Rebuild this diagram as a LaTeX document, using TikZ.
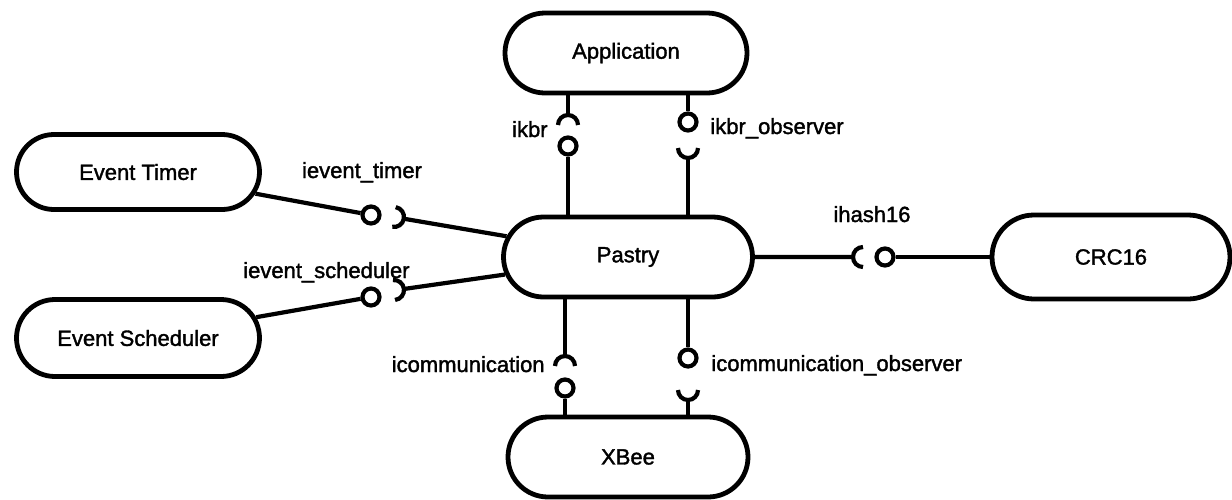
\documentclass[tikz,border=0pt]{standalone}
\usepackage{fontspec}
\setmainfont{Liberation Sans}
\newfontfamily\labelfont[FakeBold=1.6]{Liberation Sans}
\usetikzlibrary{shapes.misc,calc}

% socket (required interface): #1 centre, #2 direction it opens towards, #3 name of its back point
\newcommand\socketat[3]{%
  \coordinate (#3) at ($(#1)+(#2+180:10)$);
  \draw[conn] ($(#1)+(#2+90:10)$) arc[start angle=#2+90, end angle=#2+270, radius=10];
}

\begin{document}
\begin{tikzpicture}[x=0.5pt,y=-0.5pt,
  comp/.style={rounded rectangle, draw, line width=2.4pt, inner sep=0pt,
               font=\labelfont\fontsize{11}{13}\selectfont},
  ball/.style={circle, draw, line width=2.1pt, minimum size=8.5pt, inner sep=0pt, fill=white},
  conn/.style={line width=2.1pt},
  lbl/.style={inner sep=0pt, font=\labelfont\fontsize{11}{13}\selectfont}]
\useasboundingbox (0,0) rectangle (1232,499);

% components
\node[comp, minimum width=121pt, minimum height=40pt] (app)    at (626,53)  {Application};
\node[comp, minimum width=124.5pt, minimum height=40pt] (pastry) at (628,257) {Pastry};
\node[comp, minimum width=121.5pt, minimum height=37.5pt] (et)  at (138,172) {Event Timer};
\node[comp, minimum width=121.5pt, minimum height=38.5pt] (es)  at (138,338) {Event Scheduler};
\node[comp, minimum width=119pt, minimum height=42pt] (crc)    at (1111,257) {CRC16};
\node[comp, minimum width=120pt, minimum height=40pt] (xbee)   at (628,457) {XBee};

% ikbr
\coordinate (skbr) at (568,125);
\socketat{skbr}{90}{skbr-b}
\node[ball] (bkbr) at (568,146) {};
\draw[conn] (skbr-b |- app.south) -- (skbr-b);
\draw[conn] (bkbr) -- (bkbr |- pastry.north);
\node[lbl, anchor=base east] (lkbr) at (548,137) {ikbr};

% ikbr_observer
\node[ball] (bko) at (688,122) {};
\coordinate (sko) at (688,148);
\socketat{sko}{270}{sko-b}
\draw[conn] (bko |- app.south) -- (bko);
\draw[conn] (sko-b) -- (sko-b |- pastry.north);
\node[lbl, anchor=base west] (lko) at (710,134) {ikbr\_observer};

% icommunication
\coordinate (scom) at (565,366);
\socketat{scom}{90}{scom-b}
\node[ball] (bcom) at (565,388) {};
\draw[conn] (scom-b |- pastry.south) -- (scom-b);
\draw[conn] (bcom) -- (bcom |- xbee.north);
\node[lbl, anchor=base east] (lcom) at (545,372) {icommunication};

% icommunication_observer
\node[ball] (bco) at (688,358) {};
\coordinate (sco) at (688,390);
\socketat{sco}{270}{sco-b}
\draw[conn] (bco |- pastry.south) -- (bco);
\draw[conn] (sco-b) -- (sco-b |- xbee.north);
\node[lbl, anchor=base west] (lco) at (711,371) {icommunication\_observer};

% ihash16
\coordinate (shash) at (863,257);
\socketat{shash}{0}{shash-b}
\node[ball] (bhash) at (885,257) {};
\draw[conn] (pastry) -- (shash-b);
\draw[conn] (bhash) -- (crc);
\node[lbl, anchor=base] (lhash) at (872,222) {ihash16};

% ievent_timer
\node[ball] (btim) at (371,215) {};
\coordinate (stim) at (394,217);
\socketat{stim}{190}{stim-b}
\draw[conn] (et) -- (btim);
\draw[conn] (stim-b) -- (pastry);
\node[lbl, anchor=base] (ltim) at (362,178) {ievent\_timer};

% ievent_scheduler
\node[ball] (bsch) at (371,297) {};
\coordinate (ssch) at (394,290);
\socketat{ssch}{174}{ssch-b}
\draw[conn] (es) -- (bsch);
\draw[conn] (ssch-b) -- (pastry);
\node[lbl, anchor=base east] (lsch) at (410,278) {ievent\_scheduler};
\end{tikzpicture}
\end{document}
